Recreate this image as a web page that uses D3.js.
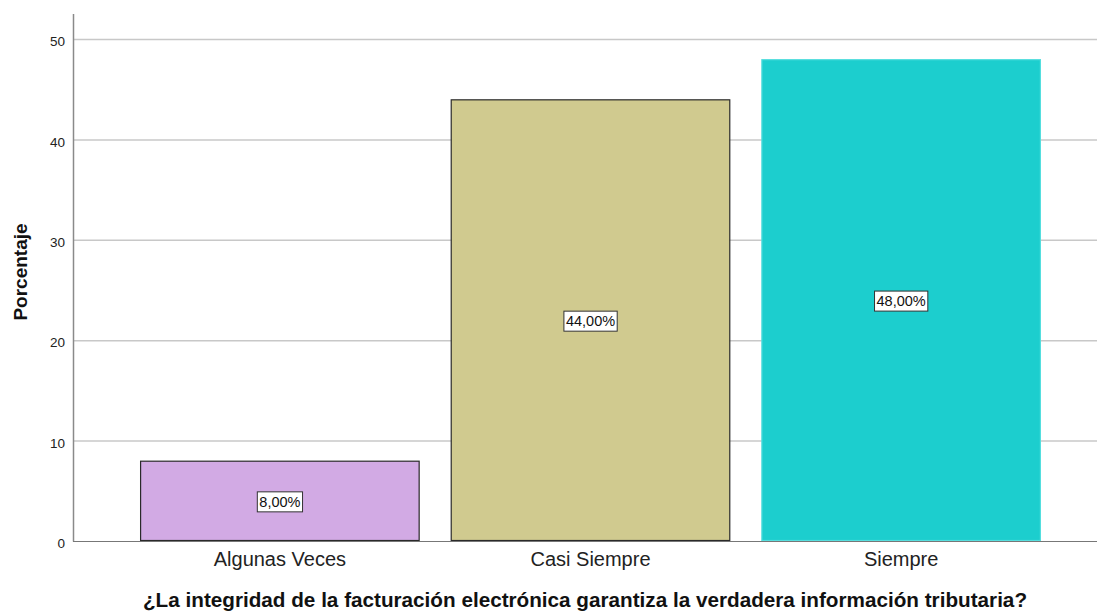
<!DOCTYPE html>
<html>
<head>
<meta charset="utf-8">
<script src="https://cdn.jsdelivr.net/npm/d3@7"></script>
<style>
  html, body { margin: 0; padding: 0; background: #fff; }
  svg { display: block; font-family: "Liberation Sans", Arial, sans-serif; }
</style>
</head>
<body>
<svg id="chart" width="1097" height="616"></svg>
<script>
// Response categories and their percentages
const categories = ["Algunas Veces", "Casi Siempre", "Siempre"];
const percentages = [8, 44, 48];
const valueLabels = ["8,00%", "44,00%", "48,00%"];
const yTicks = [0, 10, 20, 30, 40, 50];
const barFills = ["#d2aae4", "#d0ca8f", "#1ccece"];
const barStrokes = ["#2a2a2a", "#2a2a2a", "#55dede"];

const svg = d3.select("#chart");
const W = 1097, H = 616;
const plotLeft = 73, plotBottom = 541, plotTop = 14;

const x = d3.scaleBand()
  .domain(categories)
  .range([plotLeft, 1108])
  .paddingInner(0.1)
  .paddingOuter(0.216);

const y = d3.scaleLinear()
  .domain([0, 52.5])
  .range([plotBottom, plotTop]);

// Horizontal gridlines
svg.append("g")
  .selectAll("line")
  .data(yTicks.filter(d => d > 0))
  .join("line")
  .attr("x1", plotLeft).attr("x2", W)
  .attr("y1", d => y(d) + 0.5).attr("y2", d => y(d) + 0.5)
  .attr("stroke", "#c8c8c8")
  .attr("stroke-width", 1.5);

// Bars
svg.append("g")
  .selectAll("rect")
  .data(categories)
  .join("rect")
  .attr("x", d => x(d) + 0.5)
  .attr("y", (d, i) => y(percentages[i]) + 0.5)
  .attr("width", x.bandwidth() - 1)
  .attr("height", (d, i) => y(0) - y(percentages[i]) - 1)
  .attr("fill", (d, i) => barFills[i])
  .attr("stroke", (d, i) => barStrokes[i])
  .attr("stroke-width", 1.2);

// Y axis
const yAxis = svg.append("g")
  .attr("transform", `translate(${plotLeft},0)`)
  .call(d3.axisLeft(y).tickValues(yTicks).tickSize(0).tickPadding(8).tickFormat(d3.format("d")));
yAxis.select(".domain").remove();
yAxis.selectAll("text")
  .attr("font-size", 13.5)
  .attr("font-family", "Liberation Sans, Arial, sans-serif")
  .attr("dy", "0.5em")
  .attr("fill", "#222");

svg.append("line")
  .attr("x1", plotLeft + 0.5).attr("x2", plotLeft + 0.5)
  .attr("y1", plotTop).attr("y2", plotBottom + 0.5)
  .attr("stroke", "#8a8a8a").attr("stroke-width", 1.5);

// X axis baseline and category labels
svg.append("line")
  .attr("x1", plotLeft).attr("x2", W)
  .attr("y1", plotBottom + 0.5).attr("y2", plotBottom + 0.5)
  .attr("stroke", "#777").attr("stroke-width", 1.2);

const xAxis = svg.append("g")
  .attr("transform", `translate(0,${plotBottom})`)
  .call(d3.axisBottom(x).tickSize(0));
xAxis.select(".domain").remove();
xAxis.selectAll("text")
  .attr("y", 25)
  .attr("dy", 0)
  .attr("font-size", 20)
  .attr("font-family", "Liberation Sans, Arial, sans-serif")
  .attr("fill", "#222");

// Value labels in boxes at the middle of each bar
const lbl = svg.append("g")
  .selectAll("g")
  .data(categories)
  .join("g")
  .attr("transform", (d, i) => `translate(${x(d) + x.bandwidth() / 2},${(y(percentages[i]) + y(0)) / 2 + 1})`);

lbl.append("text")
  .attr("text-anchor", "middle")
  .attr("dy", "0.36em")
  .attr("font-size", 14.5)
  .attr("fill", "#111")
  .text((d, i) => valueLabels[i])
  .each(function () {
    const b = this.getBBox();
    d3.select(this.parentNode).insert("rect", "text")
      .attr("x", b.x - 2).attr("y", -10)
      .attr("width", b.width + 4).attr("height", 20)
      .attr("fill", "#fff")
      .attr("stroke", "#333")
      .attr("stroke-width", 1);
  });

// Axis titles
svg.append("text")
  .attr("transform", `translate(26.5,272) rotate(-90)`)
  .attr("text-anchor", "middle")
  .attr("font-size", 19)
  .attr("font-weight", "bold")
  .attr("fill", "#111")
  .text("Porcentaje");

svg.append("text")
  .attr("x", (plotLeft + W) / 2)
  .attr("y", 607)
  .attr("text-anchor", "middle")
  .attr("font-size", 20.7)
  .attr("font-weight", "bold")
  .attr("fill", "#111")
  .text("¿La integridad de la facturación electrónica garantiza la verdadera información tributaria?");
</script>
</body>
</html>
